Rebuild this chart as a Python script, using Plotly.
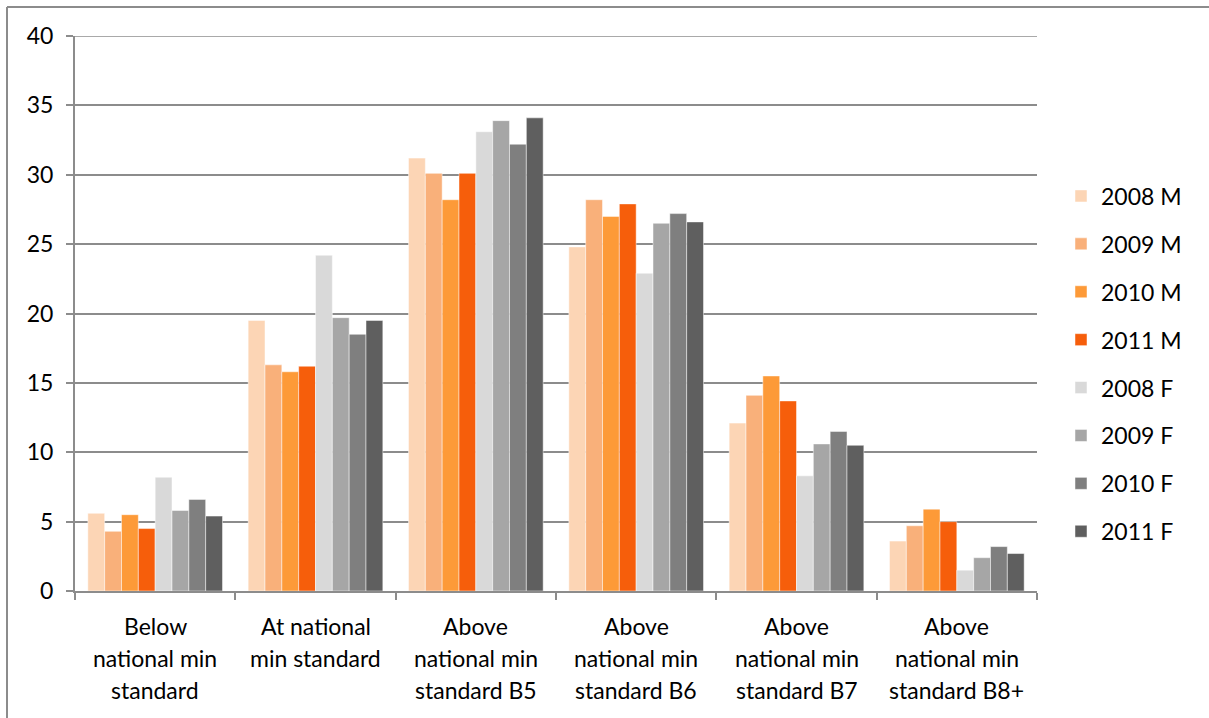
import plotly.graph_objects as go

# Categories, split into the lines shown under each group
categories = ["Below national min standard", "At national min standard",
              "Above national min standard B5", "Above national min standard B6",
              "Above national min standard B7", "Above national min standard B8+"]
category_lines = [
    ["Below", "national min", "standard"],
    ["At national", "min standard"],
    ["Above", "national min", "standard B5"],
    ["Above", "national min", "standard B6"],
    ["Above", "national min", "standard B7"],
    ["Above", "national min", "standard B8+"],
]

series_names = ["2008 M", "2009 M", "2010 M", "2011 M",
                "2008 F", "2009 F", "2010 F", "2011 F"]

m_2008 = [5.6, 19.5, 31.2, 24.8, 12.1, 3.6]
m_2009 = [4.3, 16.3, 30.1, 28.2, 14.1, 4.7]
m_2010 = [5.5, 15.8, 28.2, 27.0, 15.5, 5.9]
m_2011 = [4.5, 16.2, 30.1, 27.9, 13.7, 5.0]
f_2008 = [8.2, 24.2, 33.1, 22.9, 8.3, 1.5]
f_2009 = [5.8, 19.7, 33.9, 26.5, 10.6, 2.4]
f_2010 = [6.6, 18.5, 32.2, 27.2, 11.5, 3.2]
f_2011 = [5.4, 19.5, 34.1, 26.6, 10.5, 2.7]

series_values = [m_2008, m_2009, m_2010, m_2011, f_2008, f_2009, f_2010, f_2011]
series_colors = ["#FCD5B5", "#F9B07A", "#FD9A38", "#F65E0B",
                 "#D9D9D9", "#A6A6A6", "#7F7F7F", "#5F5F5F"]

y_ticks = [0, 5, 10, 15, 20, 25, 30, 35, 40]

FONT = "Lato, 'Open Sans', sans-serif"
FSIZE = 23

fig = go.Figure()
for name, vals, col in zip(series_names, series_values, series_colors):
    fig.add_trace(go.Bar(
        x=categories, y=vals, name=name, legendgroup=name,
        marker=dict(color=col, line=dict(color="rgba(255,255,255,0.6)", width=0.8)),
    ))

# Multi-line category labels under the axis
annotations = []
for cat, lines in zip(categories, category_lines):
    for i, line in enumerate(lines):
        annotations.append(dict(
            x=cat, xref="x", y=0, yref="paper", yanchor="middle",
            yshift=-35 - 32 * i, text=line, showarrow=False,
            font=dict(family=FONT, size=FSIZE, color="#000000"),
        ))

# Plot-area edges in pixels
L, T, B, R = 75, 36, 591, 1037
pw, ph = R - L, B - T
def px(xp):
    return (xp - L) / pw
def py(yp):
    return (B - yp) / ph

# Outer chart frame (left and top edges)
shapes = [
    dict(type="line", xref="paper", yref="paper", x0=px(7), x1=px(7),
         y0=py(7), y1=py(730), line=dict(color="#8C8C8C", width=2)),
    dict(type="line", xref="paper", yref="paper", x0=px(7), x1=px(1220),
         y0=py(7), y1=py(7), line=dict(color="#8C8C8C", width=2)),
    # gridline at the top of the value axis
    dict(type="line", xref="paper", yref="y", x0=0, x1=1, y0=40, y1=40,
         line=dict(color="#8C8C8C", width=1.5), layer="below"),
]

fig.update_layout(
    width=1209, height=718,
    margin=dict(l=L, r=1209 - R, t=T, b=718 - B),
    paper_bgcolor="white", plot_bgcolor="white",
    barmode="group", bargap=0.16, bargroupgap=0,
    font=dict(family=FONT, size=FSIZE, color="#000000"),
    showlegend=True,
    legend=dict(x=px(1061), xanchor="left", y=py(364), yanchor="middle",
                font=dict(family=FONT, size=FSIZE, color="#000000"),
                tracegroupgap=15, traceorder="grouped",
                bgcolor="rgba(0,0,0,0)"),
    annotations=annotations,
    shapes=shapes,
    xaxis=dict(showticklabels=False, tickson="boundaries", ticks="outside",
               ticklen=7, tickcolor="#8C8C8C", tickwidth=1.5,
               showline=True, linecolor="#8C8C8C", linewidth=2,
               showgrid=False, fixedrange=True),
    yaxis=dict(range=[0, 40], tickvals=y_ticks, ticks="outside", ticklen=7,
               tickcolor="#8C8C8C", tickwidth=1.5, showline=True,
               linecolor="#8C8C8C", linewidth=2, showgrid=True,
               gridcolor="#8C8C8C", gridwidth=1.5, zeroline=False,
               tickfont=dict(family=FONT, size=FSIZE, color="#000000"),
               ticklabelstandoff=8),
)

fig.write_html("out.html")
